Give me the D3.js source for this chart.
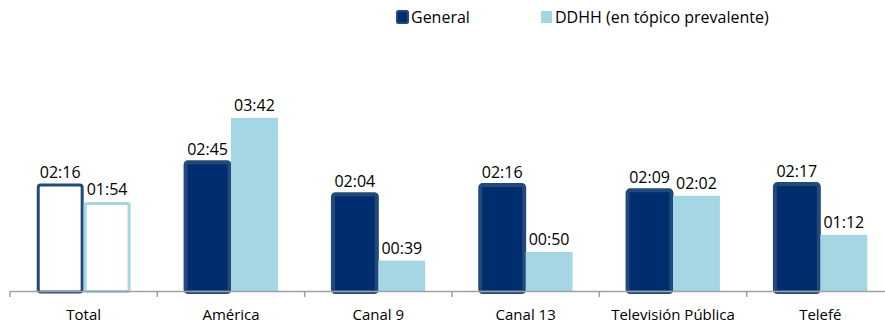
<!DOCTYPE html>
<html><head><meta charset="utf-8">
<script src="https://cdn.jsdelivr.net/npm/d3@7"></script>
<style>body{margin:0;background:#fff}svg{display:block;font-family:"Open Sans","Noto Sans",sans-serif}</style>
</head><body><svg id="c" width="885" height="324"></svg>
<script>
const categories = ["Total","América","Canal 9","Canal 13","Televisión Pública","Telefé"];
const seriesNames = ["General","DDHH (en tópico prevalente)"];
const generalSec = [136,165,124,136,129,137];
const ddhhSec = [114,222,39,50,122,72];
const fmt = s => String(Math.floor(s/60)).padStart(2,"0")+":"+String(s%60).padStart(2,"0");

const svg = d3.select("#c");
const axisY = 291;
const x0 = d3.scaleBand().domain(categories).range([10, 894]).paddingInner(0).paddingOuter(0);
const x1 = d3.scaleBand().domain(seriesNames).range([0, x0.bandwidth()]).paddingInner(0).paddingOuter(0.57);
const y = d3.scaleLinear().domain([0, 373]).range([axisY, 0]);

const colors = {gFill:"#002D6E", gStroke:"#22497A", dFill:"#A5D6E3"};

const g = svg.append("g");
categories.forEach((c,i)=>{
  const isTotal = i===0;
  const gx = x0(c)+x1(seriesNames[0]);
  const dx = x0(c)+x1(seriesNames[1]);
  const bw = x1.bandwidth();
  g.append("rect").attr("x", gx+1.5).attr("y", y(generalSec[i])).attr("width", bw-3)
    .attr("height", axisY - y(generalSec[i]) + 1).attr("rx",2.5)
    .attr("fill", isTotal ? "#fff" : colors.gFill).attr("stroke", colors.gStroke).attr("stroke-width", isTotal?3:4);
  if (isTotal) {
    g.append("rect").attr("x", dx+1.5).attr("y", y(ddhhSec[i])+1.5).attr("width", bw-3)
      .attr("height", axisY - y(ddhhSec[i])-1).attr("rx",1.5)
      .attr("fill","#fff").attr("stroke", colors.dFill).attr("stroke-width",3);
  } else {
    g.append("rect").attr("x", dx).attr("y", y(ddhhSec[i])).attr("width", bw)
      .attr("height", axisY - y(ddhhSec[i])).attr("fill", colors.dFill);
  }
  g.append("text").attr("x", gx+bw/2).attr("y", y(generalSec[i])-7).attr("text-anchor","middle")
    .attr("font-size",16).attr("fill","#000").text(fmt(generalSec[i]));
  g.append("text").attr("x", dx+bw/2).attr("y", y(ddhhSec[i])-7).attr("text-anchor","middle")
    .attr("font-size",16).attr("fill","#000").text(fmt(ddhhSec[i]));
});

const ax = svg.append("g").attr("transform",`translate(0,${axisY})`)
  .call(d3.axisBottom(x0).tickSize(0).tickPadding(18));
ax.select(".domain").attr("stroke","#A0A0A0").attr("stroke-width",1.5);
ax.selectAll("text").attr("font-size",15).attr("fill","#000").attr("font-family",'"Open Sans","Noto Sans",sans-serif');
categories.forEach(c=>{
  svg.append("line").attr("x1",x0(c)).attr("x2",x0(c)).attr("y1",axisY).attr("y2",axisY+6)
    .attr("stroke","#A0A0A0").attr("stroke-width",1.5);
});

const lg = svg.append("g");
lg.append("rect").attr("x",397).attr("y",11).attr("width",11).attr("height",12).attr("rx",1.5)
  .attr("fill",colors.gFill).attr("stroke",colors.gStroke).attr("stroke-width",2);
lg.append("text").attr("x",411).attr("y",23).attr("font-size",16).attr("fill","#000").text(seriesNames[0]);
lg.append("rect").attr("x",541).attr("y",11).attr("width",11).attr("height",12).attr("fill",colors.dFill);
lg.append("text").attr("x",555).attr("y",23).attr("font-size",16).attr("fill","#000").text(seriesNames[1]);
</script></body></html>
